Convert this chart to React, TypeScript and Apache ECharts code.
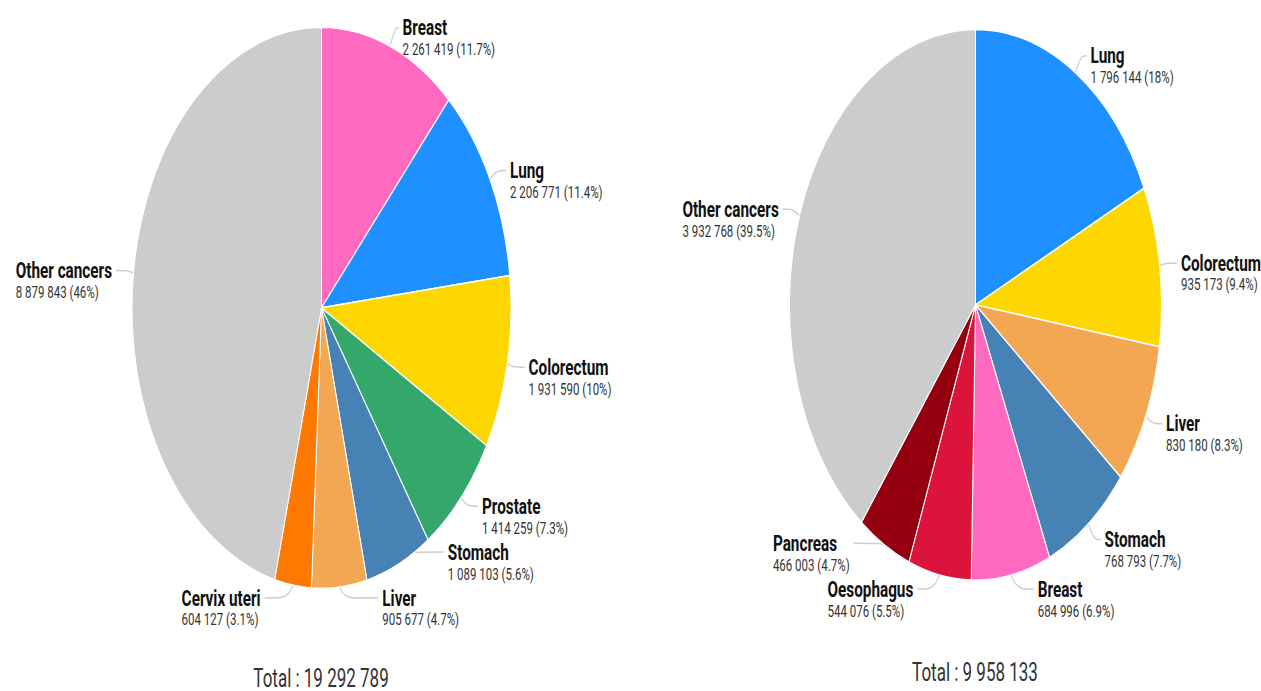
import React, { useEffect, useRef } from "react";
import * as echarts from "echarts";

const leftNames = ["Breast", "Lung", "Colorectum", "Prostate", "Stomach", "Liver", "Cervix uteri", "Other cancers"];
const leftValues = [2261419, 2206771, 1931590, 1414259, 1089103, 905677, 604127, 8879843];
const leftColors = ["#ff6ac0", "#1e90ff", "#ffd700", "#34a86a", "#4682b4", "#f4a753", "#ff7800", "#cccccc"];

const rightNames = ["Lung", "Colorectum", "Liver", "Stomach", "Breast", "Oesophagus", "Pancreas", "Other cancers"];
const rightValues = [1796144, 935173, 830180, 768793, 684996, 544076, 466003, 3932768];
const rightColors = ["#1e90ff", "#ffd700", "#f4a753", "#4682b4", "#ff6ac0", "#dc143c", "#950010", "#cccccc"];

const SCALE_Y = 1.48;
const W = 1261;
const H = 691 / SCALE_Y;
const NAME_LH = 16;
const VALUE_LH = 14;
const LABEL_BOX = 31;
const LABEL_DIST = 13.5;
const LABEL_PAD = 8;

const fmt = (v: number) => String(v).replace(/\B(?=(\d{3})+(?!\d))/g, " ");
const sum = (a: number[]) => a.reduce((s, x) => s + x, 0);
const pct = (v: number, t: number) => String(Math.round((v / t) * 1000) / 10);

type LabelPos = { x: number; y: number; align: string; points: number[][] };

// Highcharts-like distribution of the labels of one side of a pie
function distribute(targets: number[], size: number, minB: number, maxB: number): number[] {
  const order = targets.map((t, i) => i).sort((a, b) => targets[a] - targets[b]);
  let groups = order.map((i) => ({ idx: [i], pos: targets[i] }));
  const place = (g: { idx: number[]; pos: number }) => {
    const n = g.idx.length;
    let p = 0;
    g.idx.forEach((id, k) => (p += targets[id] - k * size));
    p /= n;
    p = Math.min(p, maxB - (n - 1) * size);
    p = Math.max(p, minB);
    g.pos = p;
  };
  groups.forEach(place);
  let merged = true;
  while (merged) {
    merged = false;
    for (let i = 0; i < groups.length - 1; i++) {
      const a = groups[i];
      const b = groups[i + 1];
      if (a.pos + a.idx.length * size > b.pos) {
        const g = { idx: a.idx.concat(b.idx), pos: 0 };
        place(g);
        groups.splice(i, 2, g);
        merged = true;
        break;
      }
    }
  }
  const out: number[] = new Array(targets.length).fill(0);
  groups.forEach((g) => g.idx.forEach((id, k) => (out[id] = g.pos + k * size)));
  return out;
}

function computeLabels(values: number[], cx: number, cy: number, r: number, minB: number, maxB: number): LabelPos[] {
  const total = sum(values);
  const R = r + LABEL_DIST;
  let acc = 0;
  const mids = values.map((v) => {
    const m = ((acc + v / 2) / total) * Math.PI * 2;
    acc += v;
    return m;
  });
  const res: LabelPos[] = new Array(values.length);
  [1, -1].forEach((sign) => {
    const ids = mids.map((m, i) => i).filter((i) => (sign > 0 ? mids[i] < Math.PI : mids[i] >= Math.PI));
    const targets = ids.map((i) => cy - R * Math.cos(mids[i]));
    const ys = distribute(targets, LABEL_BOX, minB, maxB);
    ids.forEach((i, k) => {
      const y = ys[k];
      const dy = Math.max(-R, Math.min(R, y - cy));
      const cxLine = cx + sign * Math.sqrt(R * R - dy * dy);
      const lx = cxLine + sign * LABEL_PAD;
      const p0 = [cx + r * Math.sin(mids[i]), cy - r * Math.cos(mids[i])];
      const p2 = [lx - sign * 4, y];
      let p1x = p0[0] + sign * 6;
      if (sign * (p2[0] - p1x) < 0) p1x = (p0[0] + p2[0]) / 2;
      res[i] = { x: lx, y, align: sign > 0 ? "left" : "right", points: [p0, [p1x, y], p2] };
    });
  });
  return res;
}

function makeSeries(
  names: string[],
  values: number[],
  colors: string[],
  center: [number, number],
  radius: number,
  minB: number,
  maxB: number
) {
  const total = sum(values);
  const labels = computeLabels(values, center[0], center[1], radius, minB, maxB);
  return {
    type: "pie",
    center,
    radius,
    startAngle: 90,
    clockwise: true,
    avoidLabelOverlap: false,
    data: names.map((n, i) => ({ name: n, value: values[i], itemStyle: { color: colors[i] } })),
    itemStyle: { borderColor: "#ffffff", borderWidth: 1 },
    label: {
      show: true,
      position: "outside",
      overflow: "none",
      formatter: (p: any) => `{n|${p.name}}\n{v|${fmt(p.value)} (${pct(p.value, total)}%)}`,
      rich: {
        n: { fontFamily: "Roboto", fontWeight: "bold", fontSize: 15.3, color: "#111", lineHeight: NAME_LH, align: "left" },
        v: { fontFamily: "Roboto", fontSize: 11.5, color: "#333", lineHeight: VALUE_LH, align: "left" },
      },
    },
    labelLine: {
      show: true,
      length: 10,
      length2: 8,
      smooth: 0.4,
      lineStyle: { color: "#cccccc", width: 1 },
    },
    labelLayout: (params: any) => {
      const l = labels[params.dataIndex];
      if (!l) return {};
      return {
        x: l.x,
        y: l.y - NAME_LH / 2,
        align: l.align,
        verticalAlign: "top",
        labelLinePoints: l.points,
      };
    },
  };
}

export default function App() {
  const ref = useRef<HTMLDivElement>(null);
  useEffect(() => {
    if (!ref.current) return;
    const chart = echarts.init(ref.current, null, { renderer: "svg" });
    const leftTotal = sum(leftValues);
    const rightTotal = sum(rightValues);
    chart.setOption({
      animation: false,
      backgroundColor: "#ffffff",
      textStyle: { fontFamily: "Roboto" },
      graphic: [
        {
          type: "text",
          x: 321,
          y: 458,
          style: {
            text: `Total : ${fmt(leftTotal)}`,
            fontFamily: "Roboto",
            fontSize: 17,
            fill: "#333",
            align: "center",
            verticalAlign: "middle",
          },
        },
        {
          type: "text",
          x: 975,
          y: 454,
          style: {
            text: `Total : ${fmt(rightTotal)}`,
            fontFamily: "Roboto",
            fontSize: 17,
            fill: "#333",
            align: "center",
            verticalAlign: "middle",
          },
        },
      ],
      series: [
        makeSeries(leftNames, leftValues, leftColors, [321.5, 208], 189.5, 10, 404),
        makeSeries(rightNames, rightValues, rightColors, [975.5, 206], 186, 10, 398),
      ],
    });
    return () => chart.dispose();
  }, []);
  return (
    <div
      style={{
        position: "fixed",
        left: 0,
        top: 0,
        width: W,
        height: 691,
        overflow: "hidden",
        background: "#fff",
      }}
    >
      <div
        ref={ref}
        style={{
          width: W,
          height: H,
          transform: `scaleY(${SCALE_Y})`,
          transformOrigin: "0 0",
        }}
      />
    </div>
  );
}
